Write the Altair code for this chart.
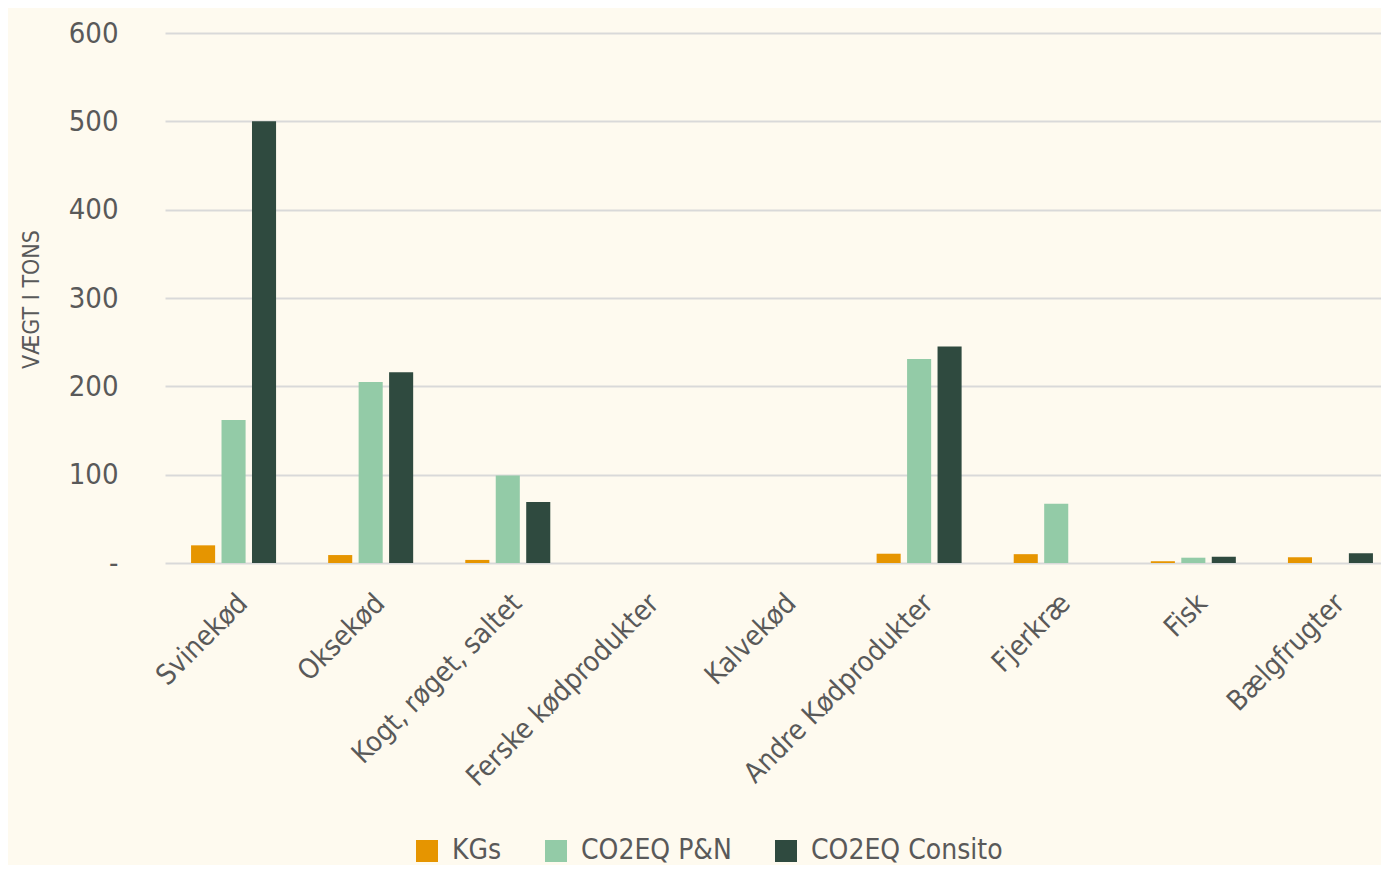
import altair as alt
import pandas as pd

categories = ["Svinekød", "Oksekød", "Kogt, røget, saltet", "Ferske kødprodukter",
              "Kalvekød", "Andre Kødprodukter", "Fjerkræ", "Fisk", "Bælgfrugter"]
series = ["KGs", "CO2EQ P&N", "CO2EQ Consito"]
kgs = [20, 9, 3.5, 0, 0, 10.5, 10, 2, 6.5]
co2_pn = [162, 205, 99, 0, 0, 231, 67, 6, 0]
co2_consito = [500, 216, 69, 0, 0, 245, 0, 7, 11]
colors = ["#E69500", "#93CBA7", "#2F4A3F"]

rows = []
for i, c in enumerate(categories):
    for s, vals in zip(series, [kgs, co2_pn, co2_consito]):
        rows.append({"Kategori": c, "Serie": s, "Værdi": vals[i]})
df = pd.DataFrame(rows)

FONT = "DejaVu Sans Condensed, sans-serif"
TXT = "#595959"

chart = alt.Chart(df).mark_bar().encode(
    x=alt.X("Kategori:N", sort=categories,
            scale=alt.Scale(paddingInner=0.38, paddingOuter=0.19, range=[0, 1234]),
            axis=alt.Axis(title=None, labelAngle=-45, labelFontSize=28, labelFont=FONT,
                          labelColor=TXT, ticks=False, domain=False, labelPadding=26,
                          labelLimit=400)),
    xOffset=alt.XOffset("Serie:N", sort=series, scale=alt.Scale(paddingInner=0.21)),
    y=alt.Y("Værdi:Q", scale=alt.Scale(domain=[0, 600]),
            axis=alt.Axis(title="VÆGT I TONS", values=[0, 100, 200, 300, 400, 500, 600],
                          labelExpr="datum.value == 0 ? '-' : datum.label",
                          labelFontSize=29, labelFont=FONT, labelColor=TXT,
                          titleFontSize=23, titleFont=FONT, titleColor=TXT,
                          titleFontWeight="normal", titleX=-134, titleY=266,
                          titleAlign="center", titleBaseline="middle", titleAngle=-90,
                          labelPadding=47, ticks=False, domain=False,
                          gridColor="#D9D9D9", gridWidth=2)),
    color=alt.Color("Serie:N", sort=series,
                    scale=alt.Scale(domain=series, range=colors),
                    legend=alt.Legend(title=None, orient="none", direction="horizontal",
                                      legendX=248, legendY=804,
                                      symbolType="square", symbolSize=484,
                                      symbolStrokeWidth=0, labelFontSize=28,
                                      labelFont=FONT, labelColor=TXT, labelLimit=400,
                                      labelOffset=11, columnPadding=40)),
).properties(
    width=1216, height=530,
    background="#FEFAEF",
    autosize=alt.AutoSizeParams(type="none"),
    padding={"left": 157, "top": 25, "right": 0, "bottom": 302},
).configure_view(stroke=None)

chart.save("out.html", embed_options={"renderer": "svg", "actions": False})
